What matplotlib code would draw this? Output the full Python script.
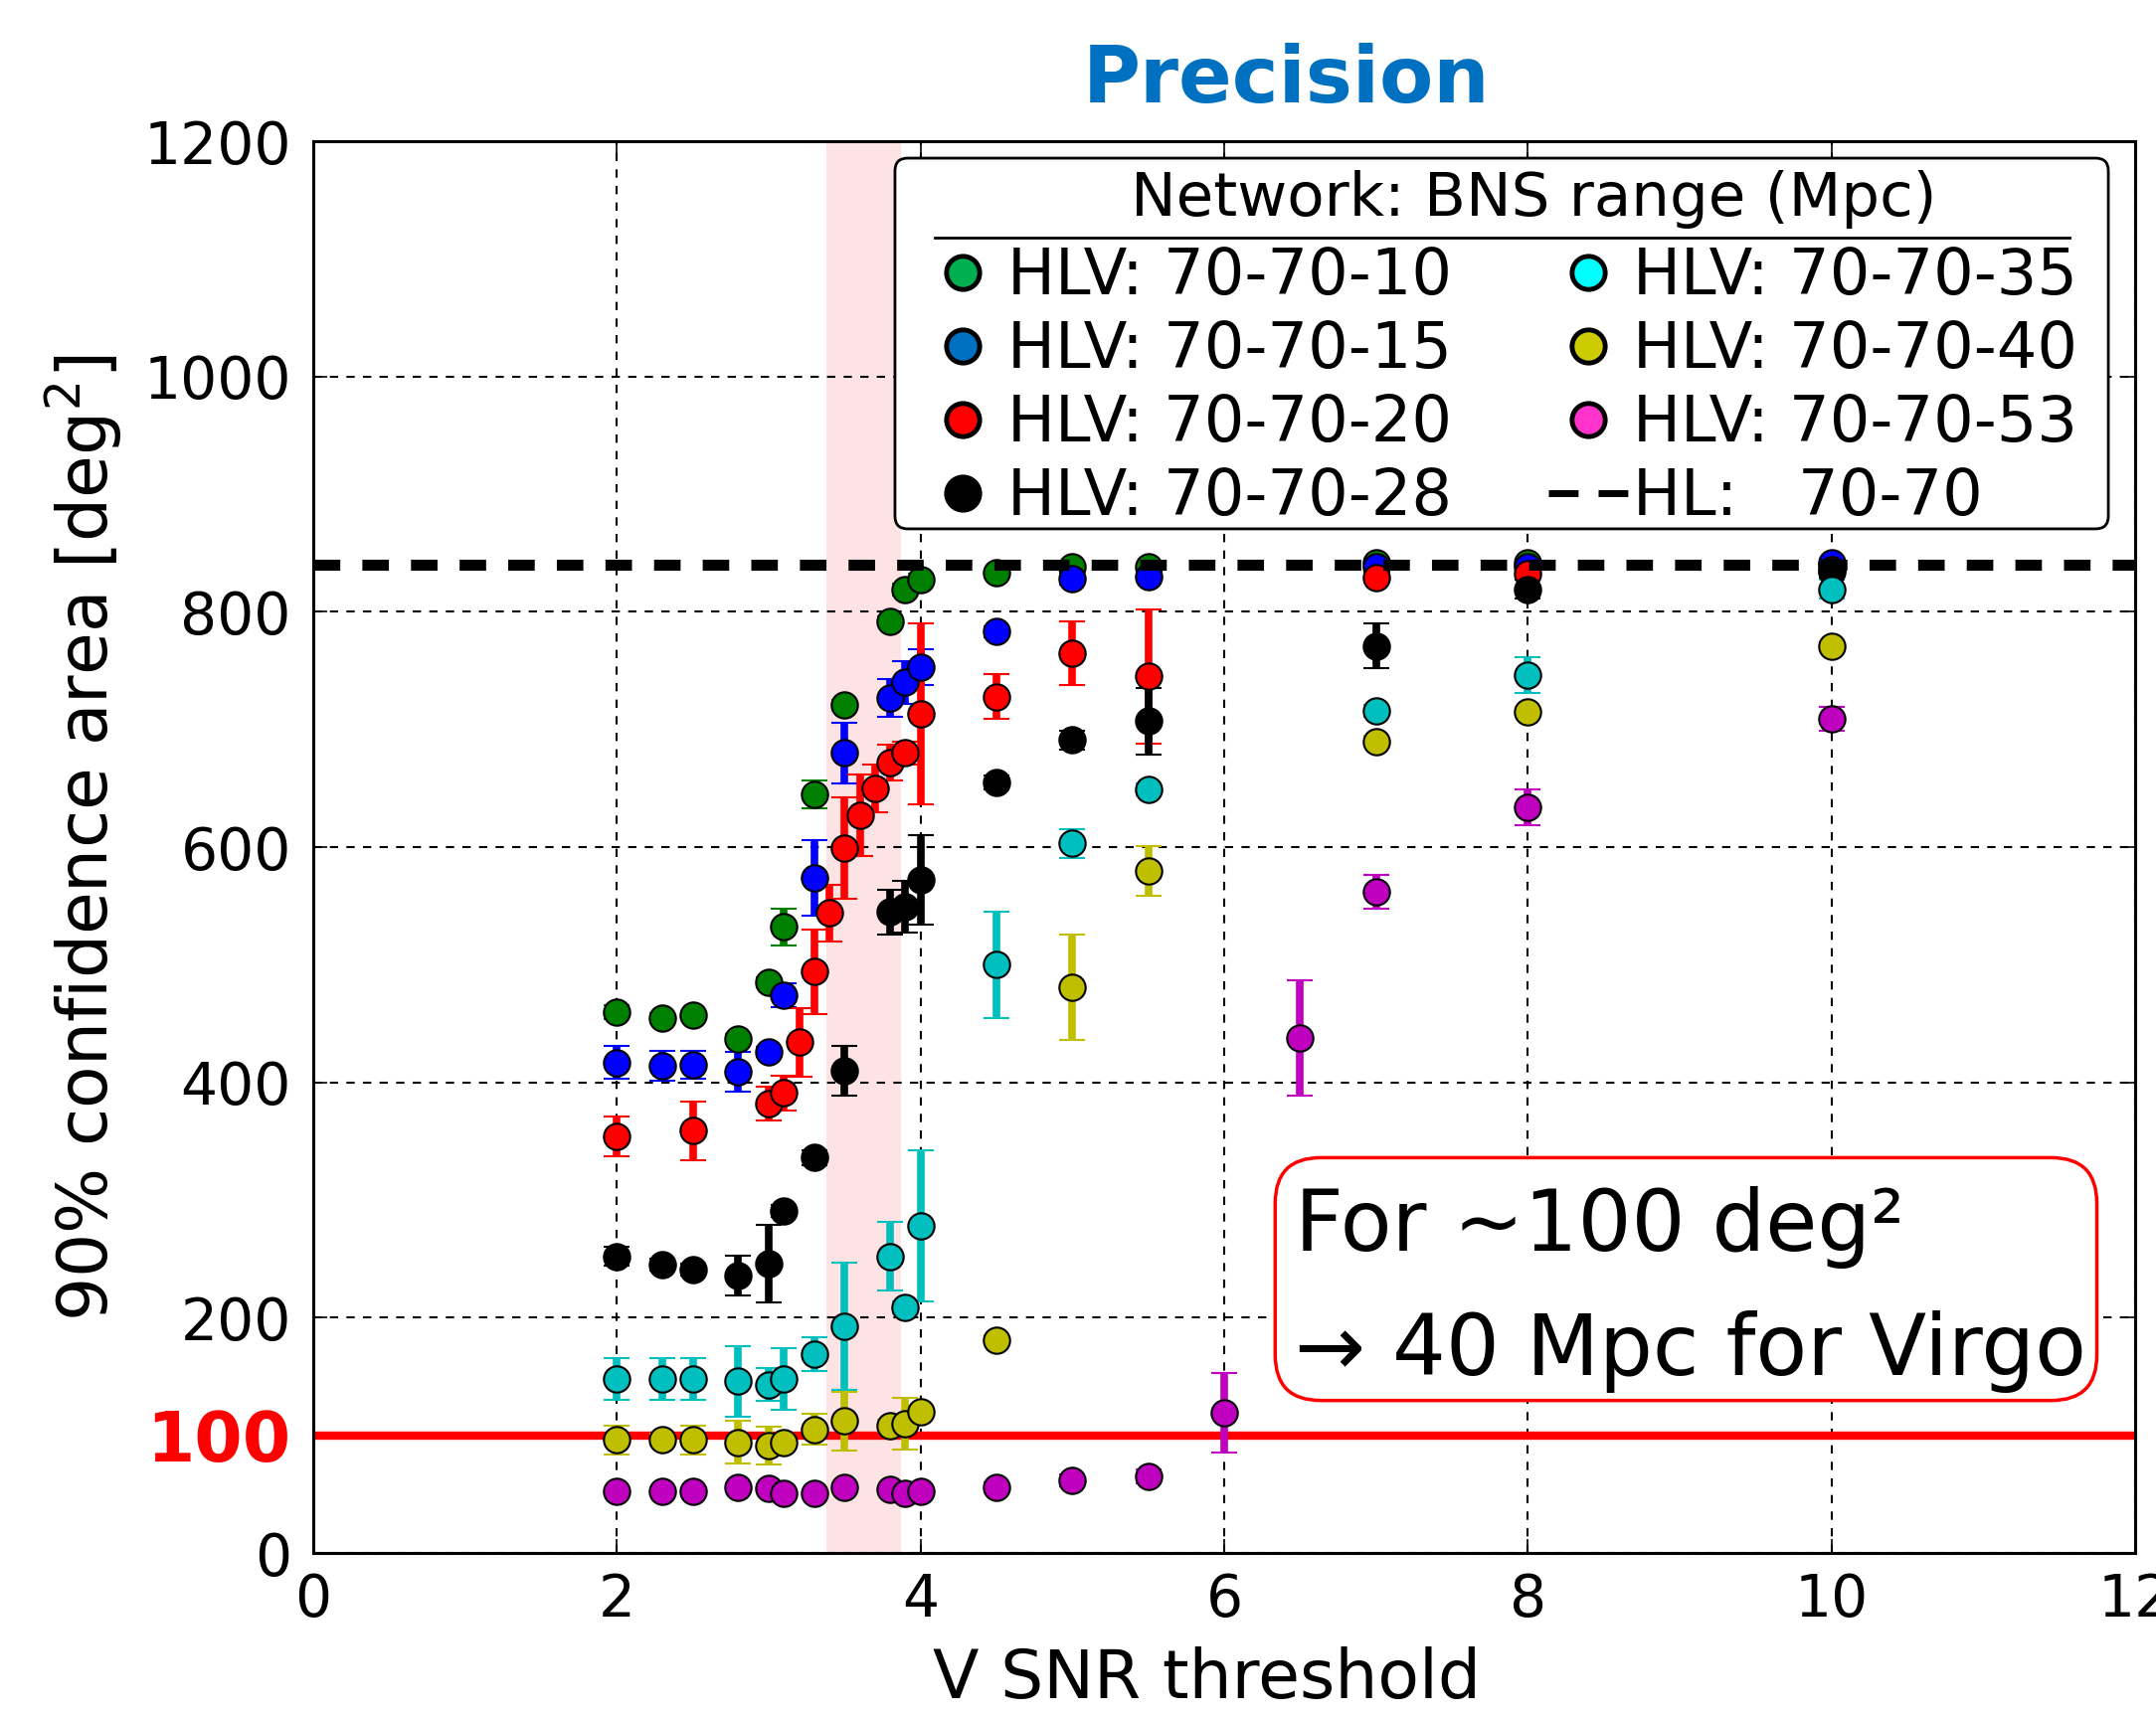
import matplotlib
matplotlib.use("Agg")
import matplotlib.pyplot as plt
from matplotlib.lines import Line2D
from matplotlib.patches import FancyBboxPatch

plt.rcParams['font.family'] = ['DejaVu Sans']

# ---------------- data ----------------
x_g = [2.0, 2.3, 2.5, 2.8, 3.0, 3.1, 3.3, 3.5, 3.8, 3.9, 4.0, 4.5, 5.0, 5.5, 7.0, 8.0, 10.0]
y_g = [460, 455, 457, 437, 485, 532, 645, 721, 792, 819, 827, 833, 838, 838, 842, 842, 840]
e_g = [6, 4, 3, 4, 4, 16, 12, 4, 4, 5, 5, 3, 3, 3, 3, 3, 3]

x_b = [2.0, 2.3, 2.5, 2.8, 3.0, 3.1, 3.3, 3.5, 3.8, 3.9, 4.0, 4.5, 5.0, 5.5, 7.0, 8.0, 10.0]
y_b = [417, 414, 415, 409, 426, 474, 574, 680, 727, 740, 753, 783, 828, 830, 838, 838, 842]
e_b = [14, 13, 12, 17, 4, 10, 32, 26, 16, 18, 15, 5, 5, 4, 3, 3, 3]

x_r = [2.0, 2.5, 3.0, 3.1, 3.2, 3.3, 3.4, 3.5, 3.6, 3.7, 3.8, 3.9, 4.0, 4.5, 5.0, 5.5, 7.0, 8.0, 10.0]
y_r = [354, 359, 382, 391, 434, 494, 544, 599, 627, 650, 672, 680, 713, 728, 765, 745, 829, 832, 836]
e_r = [17, 25, 14, 15, 29, 36, 24, 43, 35, 20, 15, 10, 77, 19, 27, 57, 4, 4, 4]

x_k = [2.0, 2.3, 2.5, 2.8, 3.0, 3.1, 3.3, 3.5, 3.8, 3.9, 4.0, 4.5, 5.0, 5.5, 7.0, 8.0, 10.0]
y_k = [252, 245, 241, 236, 246, 291, 336, 410, 545, 549, 572, 655, 691, 707, 771, 819, 834]
e_k = [8, 5, 5, 17, 33, 5, 6, 21, 19, 22, 38, 6, 8, 28, 19, 8, 5]

x_c = [2.0, 2.3, 2.5, 2.8, 3.0, 3.1, 3.3, 3.5, 3.8, 3.9, 4.0, 4.5, 5.0, 5.5, 7.0, 8.0, 10.0]
y_c = [148, 148, 148, 146, 143, 148, 169, 193, 252, 209, 278, 500, 603, 649, 716, 746, 819]
e_c = [18, 18, 18, 30, 14, 26, 14, 54, 29, 5, 64, 45, 12, 5, 5, 15, 8]

x_y = [2.0, 2.3, 2.5, 2.8, 3.0, 3.1, 3.3, 3.5, 3.8, 3.9, 4.0, 4.5, 5.0, 5.5, 7.0, 8.0, 10.0]
y_y = [96, 96, 96, 94, 91, 94, 105, 112, 108, 110, 120, 181, 481, 580, 690, 715, 771]
e_y = [12, 5, 12, 18, 16, 5, 13, 25, 5, 22, 5, 4, 45, 21, 5, 4, 4]

x_m = [2.0, 2.3, 2.5, 2.8, 3.0, 3.1, 3.3, 3.5, 3.8, 3.9, 4.0, 4.5, 5.0, 5.5, 6.0, 6.5, 7.0, 8.0, 10.0]
y_m = [52, 52, 52, 56, 55, 51, 51, 56, 54, 51, 52, 56, 62, 65, 119, 438, 562, 634, 709]
e_m = [3, 3, 3, 3, 3, 3, 3, 3, 3, 3, 3, 4, 5, 6, 34, 49, 14, 15, 10]

labels = ["HLV: 70-70-10", "HLV: 70-70-15", "HLV: 70-70-20", "HLV: 70-70-28",
          "HLV: 70-70-35", "HLV: 70-70-40", "HLV: 70-70-53"]
hl_label = "HL:   70-70"
legend_title = "Network: BNS range (Mpc)"
hl_area = 840
target_area = 100
band = (3.38, 3.87)
xticks = [0, 2, 4, 6, 8, 10, 12]
yticks = [0, 100, 200, 400, 600, 800, 1000, 1200]

# ---------------- styles ----------------
plot_colors = [(0, 0.5, 0), (0, 0, 1), (1, 0, 0), (0, 0, 0),
               (0, 0.75, 0.75), (0.75, 0.75, 0), (0.75, 0, 0.75)]
legend_colors = ['#00B050', '#0070C0', '#FF0000', '#000000',
                 '#00FFFF', '#CCCC00', '#FF33CC']

fig = plt.figure(figsize=(21.68, 17.27), dpi=100)
ax = fig.add_axes([315 / 2168, 1 - 1562 / 1727, 1832 / 2168, 1420 / 1727])
asp = 1832 / 1420

ax.axvspan(band[0], band[1], color='#fde3e3', lw=0, zorder=0)
ax.axhline(target_area, color='red', lw=6, zorder=1.5)

series = [(x_g, y_g, e_g), (x_b, y_b, e_b), (x_r, y_r, e_r), (x_k, y_k, e_k),
          (x_c, y_c, e_c), (x_y, y_y, e_y), (x_m, y_m, e_m)]
for i, ((xs, ys, es), col) in enumerate(zip(series, plot_colors)):
    ax.errorbar(xs, ys, yerr=es, fmt='o', color=col, ms=19, mec='k', mew=1.5,
                elinewidth=5.5, capsize=9.5, capthick=2.5, zorder=3 + i * 0.01)

ax.axhline(hl_area, color='k', lw=8, linestyle=(0, (2.4, 2.0)), zorder=4)

ax.set_xlim(0, 12)
ax.set_ylim(0, 1200)
ax.set_xticks(xticks)
ax.set_yticks(yticks)
ax.set_xticklabels([str(v) for v in xticks])
ax.set_yticklabels([str(v) for v in yticks])
ax.tick_params(axis='both', direction='in', length=10, width=1.2,
               top=True, right=True, labelsize=42)
ax.tick_params(axis='x', pad=14)
ax.tick_params(axis='y', pad=16)
ytl = ax.get_yticklabels()
ytl[1].set_color('red')
ytl[1].set_fontweight('bold')
ytl[1].set_fontsize(50)
for s in ax.spines.values():
    s.set_linewidth(2.2)
ax.set_axisbelow(True)
ax.grid(True, color='k', lw=1.5, linestyle=(0, (4, 4)))

# axis labels / title
fig.text(84 / 2168, 1 - 843 / 1727, r'90% confidence area [deg$^2$]', rotation=90,
         ha='center', va='center', fontsize=50)
fig.text(1213 / 2168, 1 - 1708 / 1727, 'V SNR threshold', ha='center',
         va='baseline', fontsize=49)
fig.text(1293 / 2168, 1 - 103 / 1727, 'Precision', ha='center', va='baseline',
         fontsize=57, fontweight='bold', color='#0070C0')

# legend (frame and title drawn separately)
frame = FancyBboxPatch((0.3193, 0.7254), 0.9853 - 0.3193, 0.988 - 0.7254,
                       boxstyle='round,pad=0,rounding_size=0.007',
                       mutation_aspect=asp, transform=ax.transAxes,
                       fc='white', ec='k', lw=2, zorder=7)
ax.add_patch(frame)
ax.text(0.670, 0.959, legend_title, transform=ax.transAxes, fontsize=44,
        ha='center', va='center', zorder=9)
handles = [Line2D([], [], ls='none', marker='o', ms=24, mfc=c, mec='k', mew=3.5)
           for c in legend_colors]
handles.append(Line2D([], [], color='k', lw=5, linestyle=(0, (4.3, 2.9))))
leg = ax.legend(handles, labels + [hl_label], ncol=2, loc='upper left',
                bbox_to_anchor=(0.3346, 0.926),
                fontsize=46, frameon=False,
                borderpad=0, labelspacing=0.19, handlelength=1.25,
                handletextpad=0.08, columnspacing=1.52, borderaxespad=0)
leg.set_zorder(8)
ax.plot([0.341, 0.964], [0.932, 0.932], transform=ax.transAxes, color='k',
        lw=2, zorder=10, clip_on=False)

# annotation box
box = FancyBboxPatch((0.528, 0.108), 0.451, 0.172,
                     boxstyle='round,pad=0,rounding_size=0.025',
                     mutation_aspect=asp, transform=ax.transAxes,
                     fc='white', ec='red', lw=2.5, zorder=6)
ax.add_patch(box)
ax.text(0.539, 0.214, 'For ~100 deg\u00b2', transform=ax.transAxes,
        fontsize=61, va='baseline', ha='left', zorder=7)
ax.text(0.539, 0.126, '\u2192 40 Mpc for Virgo', transform=ax.transAxes,
        fontsize=61, va='baseline', ha='left', zorder=7)

fig.savefig('out.png', dpi=100)
